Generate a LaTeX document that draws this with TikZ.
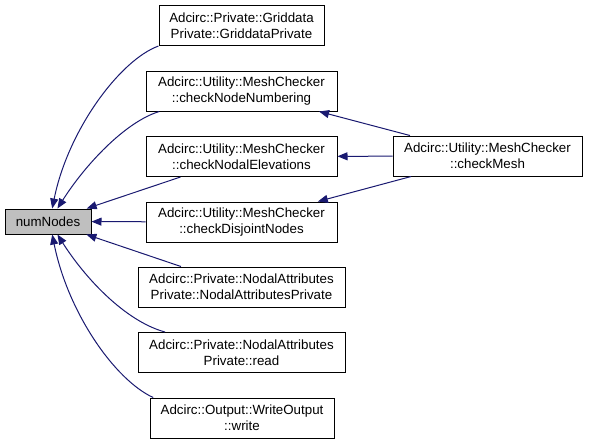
\documentclass[tikz,border=0pt]{standalone}
\usepackage{fontspec}
\setmainfont{Liberation Sans}
\usetikzlibrary{arrows.meta}
\definecolor{midnight}{RGB}{25,25,112}

\tikzstyle{func}=[draw=black, fill=white, line width=0.75pt, align=center, inner sep=0pt, minimum height=30pt, font=\fontsize{10}{12}\selectfont]
\tikzstyle{edge} = [draw, line width=0.75pt, midnight, -{Triangle[length=7.5pt, width=6pt]}]

\begin{document}
\begin{tikzpicture}[x=0.75pt, y=-0.75pt]
		\useasboundingbox (0,0) rectangle (589,444);
		\node[func, fill=black!25, minimum width=64.5pt, minimum height=18.75pt] (numNodes) at (48,221.5) {numNodes};
		\foreach \pos/\name/\w/\txt in {{(241.5,25.5)/griddata/123.75pt/{Adcirc::Private::Griddata\\Private::GriddataPrivate}},
				{(241.5,91)/numbering/143.25pt/{Adcirc::Utility::MeshChecker\\::checkNodeNumbering}},
				{(241.5,156.5)/elevations/143.25pt/{Adcirc::Utility::MeshChecker\\::checkNodalElevations}},
				{(241.5,222)/disjoint/143.25pt/{Adcirc::Utility::MeshChecker\\::checkDisjointNodes}},
				{(241.5,287)/nodalpriv/155.25pt/{Adcirc::Private::NodalAttributes\\Private::NodalAttributesPrivate}},
				{(241.5,352.5)/read/155.25pt/{Adcirc::Private::NodalAttributes\\Private::read}},
				{(242,418)/write/138pt/{Adcirc::Output::WriteOutput\\::write}},
				{(487.5,156)/checkMesh/141.75pt/{Adcirc::Utility::MeshChecker\\::checkMesh}}}
			\node[func, minimum width=\w] (\name) at \pos {\txt};
		\foreach \source in {elevations, disjoint, nodalpriv}
			\path[edge] (\source) -- (numNodes);
		\path[edge] (griddata.south west) .. controls (120,60) and (68,130) .. (numNodes.72);
		\path[edge] (numbering.194) .. controls (125,122) and (85,165) .. (numNodes.54);
		\path[edge] (read.165) .. controls (125,321) and (85,278) .. (numNodes.-54);
		\path[edge] (write.167) .. controls (115,380) and (68,313) .. (numNodes.-72);
		\foreach \dest in {numbering, elevations, disjoint}
			\path[edge] (checkMesh) -- (\dest);
	\end{tikzpicture}
\end{document}
